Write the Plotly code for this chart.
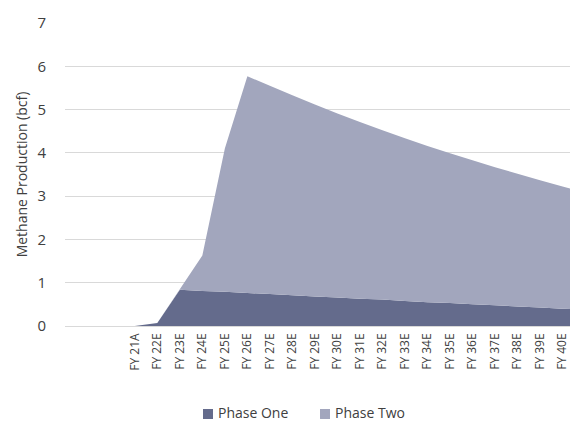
import plotly.graph_objects as go

years = ["FY 21A", "FY 22E", "FY 23E", "FY 24E", "FY 25E", "FY 26E", "FY 27E",
         "FY 28E", "FY 29E", "FY 30E", "FY 31E", "FY 32E", "FY 33E", "FY 34E",
         "FY 35E", "FY 36E", "FY 37E", "FY 38E", "FY 39E", "FY 40E", "FY 41E"]

# Methane production, bcf (the last year runs past the visible axis range)
phase_one = [0.00, 0.07, 0.84, 0.81, 0.79, 0.76, 0.74, 0.71, 0.68, 0.66,
             0.63, 0.61, 0.58, 0.55, 0.53, 0.50, 0.48, 0.45, 0.43, 0.40, 0.38]
phase_two = [0.00, 0.00, 0.01, 0.82, 3.31, 5.01, 4.81, 4.62, 4.44, 4.25,
             4.08, 3.91, 3.76, 3.61, 3.46, 3.33, 3.19, 3.07, 2.94, 2.82, 2.70]

series = [("Phase One", phase_one, "#646b8c"), ("Phase Two", phase_two, "#a2a6bd")]
font = "Open Sans, Liberation Sans, sans-serif"
text_col = "#404040"

fig = go.Figure()
for name, vals, col in series:
    fig.add_trace(go.Scatter(x=years, y=vals, name=name, stackgroup="one",
                             mode="none", fillcolor=col, showlegend=False,
                             hoveron="points"))

# legend row below the axis: square swatch followed by the series name
legend_left = [0.2733, 0.505]
sw = 0.0198
for (name, _, col), lx in zip(series, legend_left):
    fig.add_shape(type="rect", xref="paper", yref="paper",
                  x0=lx, x1=lx + sw, y0=-0.3069, y1=-0.2739,
                  fillcolor=col, line=dict(width=0))
    fig.add_annotation(
        xref="paper", yref="paper", x=lx + sw + 0.008, y=-0.287,
        xanchor="left", yanchor="middle", showarrow=False, borderpad=0,
        text=name, font=dict(family=font, size=14, color=text_col),
    )

fig.update_layout(
    width=570, height=423,
    margin=dict(l=65, r=0, t=23, b=97),
    paper_bgcolor="white", plot_bgcolor="white",
    font=dict(family=font, color=text_col),
    showlegend=False,
    xaxis=dict(type="category", range=[-3.1, 19.33], tickangle=-90,
               tickfont=dict(size=12, color=text_col), showgrid=False,
               showline=False, ticks="", zeroline=False, ticklabelstandoff=4),
    yaxis=dict(range=[0, 7], dtick=1, showgrid=True, gridcolor="#d9d9d9", gridwidth=1,
               zeroline=True, zerolinecolor="#d9d9d9", zerolinewidth=1,
               tickfont=dict(size=15, color=text_col), ticks="", ticklabelstandoff=18,
               title=dict(text="Methane Production (bcf)", font=dict(size=14, color=text_col),
                          standoff=6)),
)

fig.write_html("out.html")
